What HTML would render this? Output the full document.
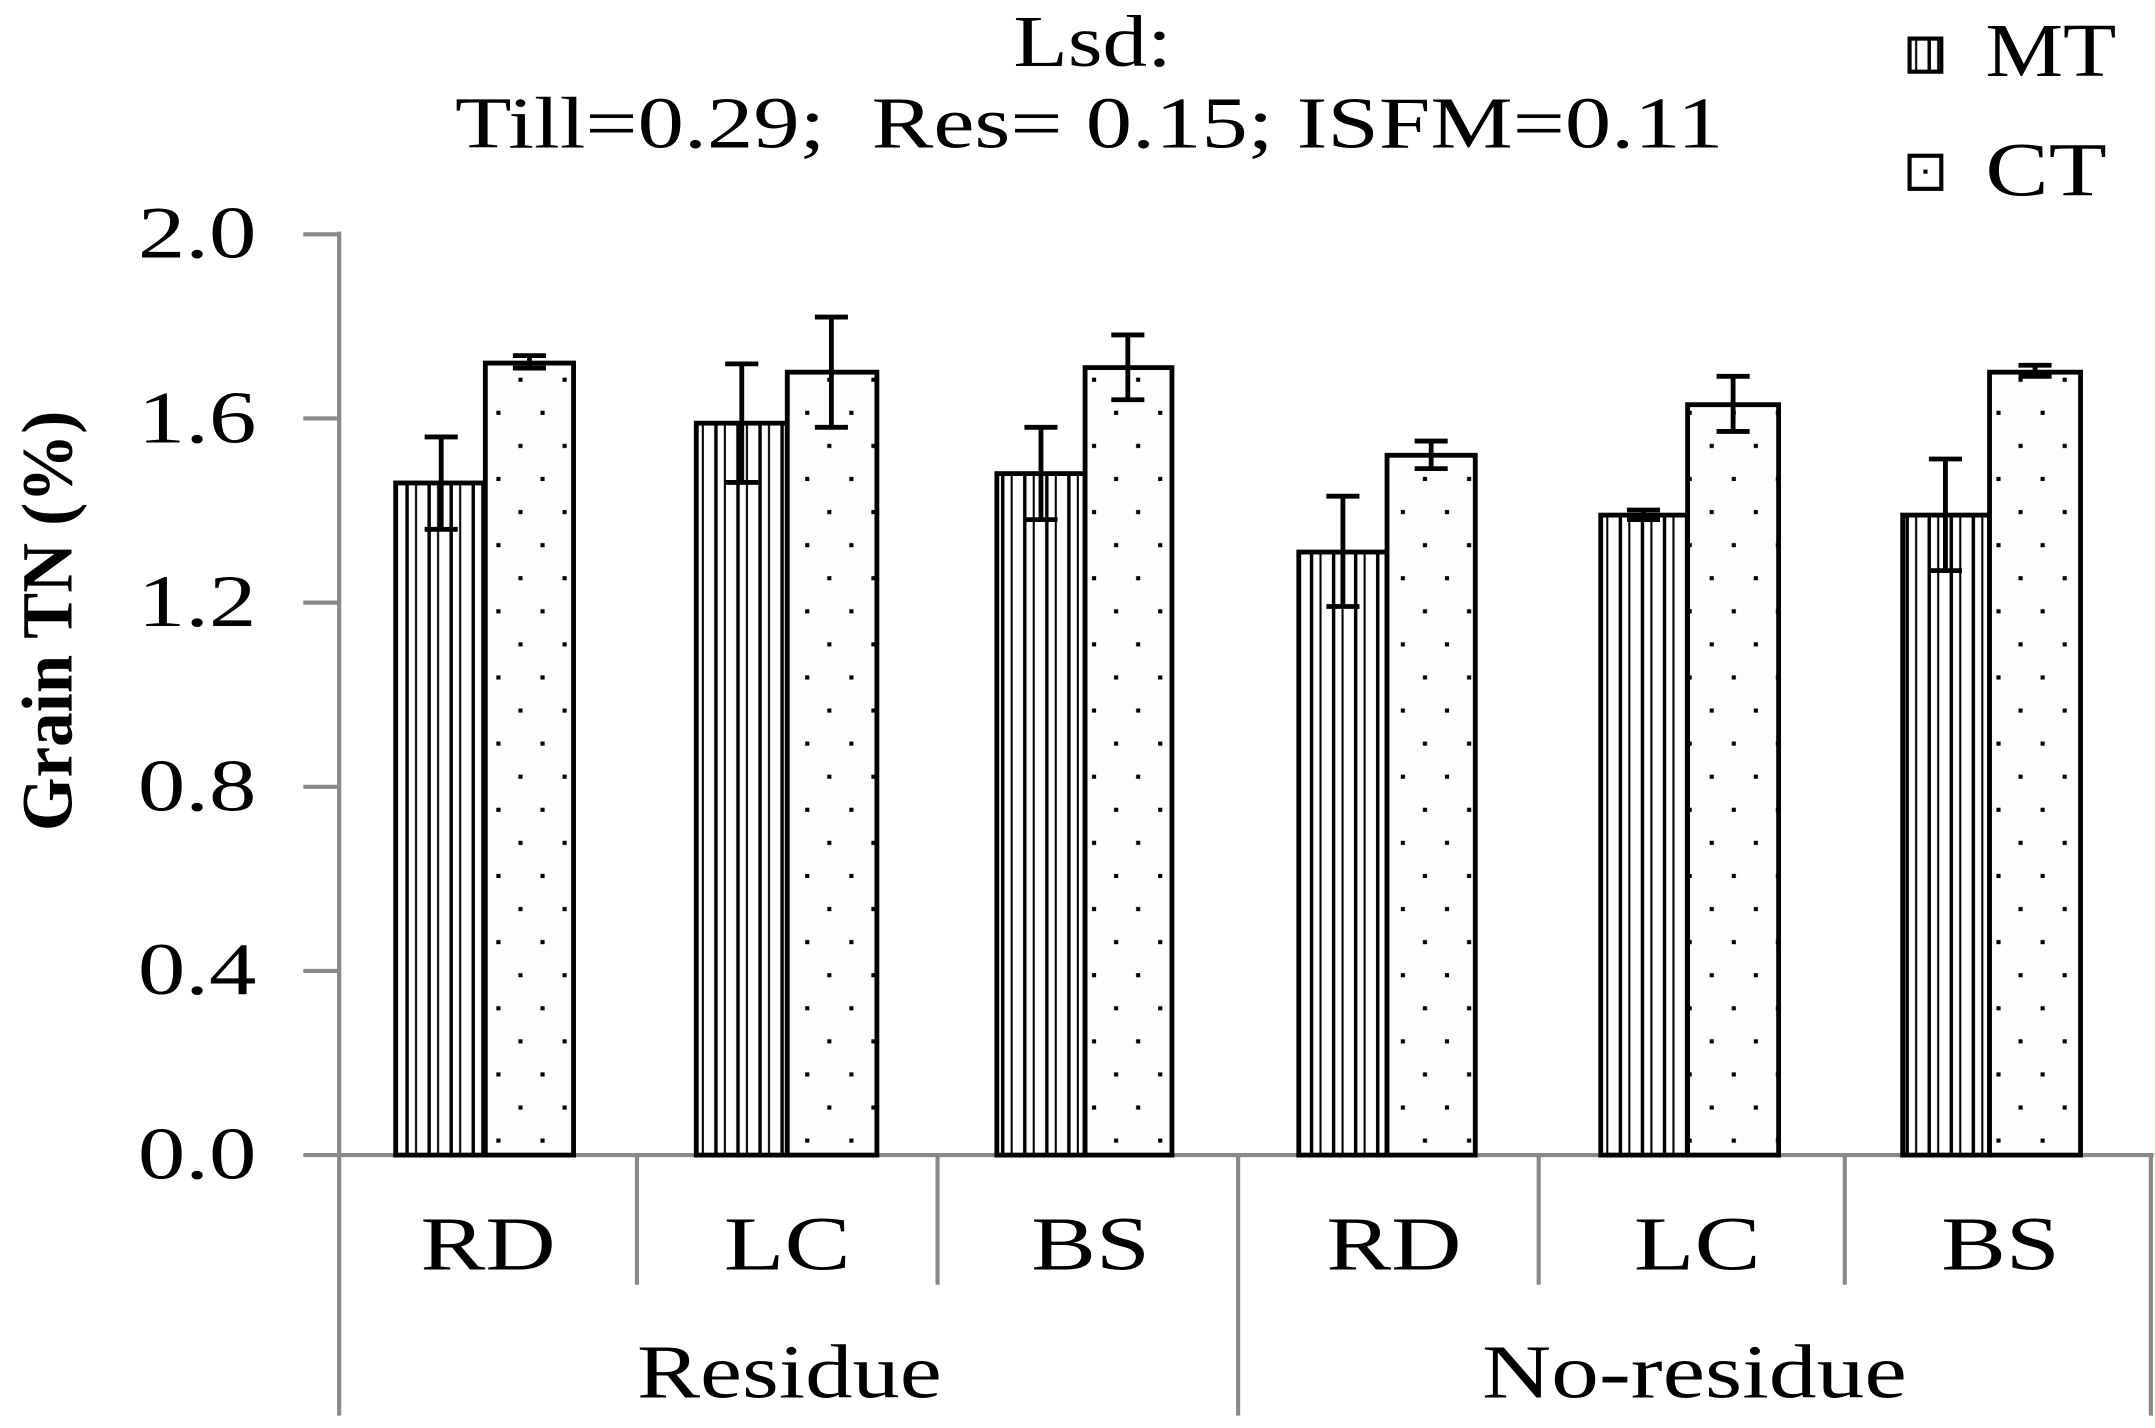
<!DOCTYPE html>
<html><head><meta charset="utf-8"><style>
html,body{margin:0;padding:0;background:#fff;}
svg{display:block;}
text{font-family:"Liberation Serif",serif;fill:#000;}
</style></head><body>
<svg width="2155" height="1428" viewBox="0 0 1563 1036" preserveAspectRatio="none" xmlns="http://www.w3.org/2000/svg">
<defs>
<pattern id="vs" width="16" height="10" patternUnits="userSpaceOnUse">
<rect width="16" height="10" fill="#fff"/>
<rect x="6" y="0" width="2.5" height="10" fill="#000"/>
<rect x="13" y="0" width="1.5" height="10" fill="#000"/>
</pattern>
<pattern id="dt" width="32" height="48" patternUnits="userSpaceOnUse">
<rect width="32" height="48" fill="#fdfdfd"/>
<rect x="8" y="10" width="3" height="3" fill="#000"/>
<rect x="24" y="34" width="3" height="3" fill="#000"/>
</pattern>
</defs>
<rect width="1563" height="1036" fill="#fff"/>
<g stroke="#888" stroke-width="3" fill="none">
<line x1="246" y1="168" x2="246" y2="1027"/>
<line x1="220" y1="170" x2="246" y2="170"/>
<line x1="220" y1="303.6" x2="246" y2="303.6"/>
<line x1="220" y1="437.2" x2="246" y2="437.2"/>
<line x1="220" y1="570.8" x2="246" y2="570.8"/>
<line x1="220" y1="704.4" x2="246" y2="704.4"/>
<line x1="220" y1="838" x2="1562" y2="838"/>
<line x1="462" y1="838" x2="462" y2="932"/>
<line x1="680" y1="838" x2="680" y2="932"/>
<line x1="898" y1="838" x2="898" y2="1027"/>
<line x1="1116" y1="838" x2="1116" y2="932"/>
<line x1="1338" y1="838" x2="1338" y2="932"/>
<line x1="1560" y1="838" x2="1560" y2="1027"/>
</g>
<g font-size="54">
<text x="100" y="187" textLength="86" lengthAdjust="spacingAndGlyphs">2.0</text>
<text x="100" y="321" textLength="86" lengthAdjust="spacingAndGlyphs">1.6</text>
<text x="100" y="454" textLength="86" lengthAdjust="spacingAndGlyphs">1.2</text>
<text x="100" y="588" textLength="86" lengthAdjust="spacingAndGlyphs">0.8</text>
<text x="100" y="721" textLength="86" lengthAdjust="spacingAndGlyphs">0.4</text>
<text x="100" y="855" textLength="86" lengthAdjust="spacingAndGlyphs">0.0</text>
</g>
<text transform="translate(52,603) rotate(-90)" font-size="52" font-weight="bold" textLength="305" lengthAdjust="spacingAndGlyphs">Grain TN (%)</text>
<g stroke="#000" stroke-width="3.5">
<rect x="287" y="350.4" width="65" height="487.6" fill="url(#vs)"/>
<rect x="352" y="263.4" width="64" height="574.6" fill="url(#dt)"/>
<rect x="505" y="307" width="66" height="531" fill="url(#vs)"/>
<rect x="571" y="270" width="65" height="568" fill="url(#dt)"/>
<rect x="723" y="343.6" width="64" height="494.4" fill="url(#vs)"/>
<rect x="787" y="266.7" width="63" height="571.3" fill="url(#dt)"/>
<rect x="942" y="400.5" width="64" height="437.5" fill="url(#vs)"/>
<rect x="1006" y="330.3" width="64" height="507.7" fill="url(#dt)"/>
<rect x="1161" y="373.7" width="63" height="464.3" fill="url(#vs)"/>
<rect x="1224" y="293.6" width="66" height="544.4" fill="url(#dt)"/>
<rect x="1380" y="373.7" width="63" height="464.3" fill="url(#vs)"/>
<rect x="1443" y="270" width="66" height="568" fill="url(#dt)"/>
</g>
<g stroke="#000" stroke-width="3.5" fill="none">
<path d="M320 317V384M308 317H332M308 384H332"/>
<path d="M384 258V267M372 258H396M372 267H396"/>
<path d="M538 264V350M526 264H550M526 350H550"/>
<path d="M603 230V310M591 230H615M591 310H615"/>
<path d="M755 310V377M743 310H767M743 377H767"/>
<path d="M818 243V290M806 243H830M806 290H830"/>
<path d="M974 360V440M962 360H986M962 440H986"/>
<path d="M1038 320V340M1026 320H1050M1026 340H1050"/>
<path d="M1192 370V377M1180 370H1204M1180 377H1204"/>
<path d="M1257 273V313M1245 273H1269M1245 313H1269"/>
<path d="M1411 333V414M1399 333H1423M1399 414H1423"/>
<path d="M1476 265V273M1464 265H1488M1464 273H1488"/>
</g>
<g font-size="55">
<text x="305" y="921" textLength="98" lengthAdjust="spacingAndGlyphs">RD</text>
<text x="525" y="921" textLength="92" lengthAdjust="spacingAndGlyphs">LC</text>
<text x="748" y="921" textLength="86" lengthAdjust="spacingAndGlyphs">BS</text>
<text x="962" y="921" textLength="98" lengthAdjust="spacingAndGlyphs">RD</text>
<text x="1185" y="921" textLength="92" lengthAdjust="spacingAndGlyphs">LC</text>
<text x="1408" y="921" textLength="86" lengthAdjust="spacingAndGlyphs">BS</text>
<text x="462" y="1014" textLength="221" lengthAdjust="spacingAndGlyphs">Residue</text>
<text x="1075" y="1014" textLength="308" lengthAdjust="spacingAndGlyphs">No-residue</text>
</g>
<g font-size="53">
<text x="735" y="48" textLength="115" lengthAdjust="spacingAndGlyphs">Lsd:</text>
<text x="330" y="107" textLength="920" lengthAdjust="spacingAndGlyphs" xml:space="preserve">Till=0.29;  Res= 0.15; ISFM=0.11</text>
</g>
<rect x="1385" y="28" width="23" height="24" fill="url(#vs)" stroke="#000" stroke-width="3"/>
<text x="1440" y="55" font-size="55" textLength="95" lengthAdjust="spacingAndGlyphs">MT</text>
<rect x="1385" y="113" width="23" height="24" fill="#fff" stroke="#000" stroke-width="3"/>
<rect x="1395" y="123" width="3" height="3" fill="#000"/>
<text x="1440" y="142" font-size="55" textLength="88" lengthAdjust="spacingAndGlyphs">CT</text>
</svg>
</body></html>
